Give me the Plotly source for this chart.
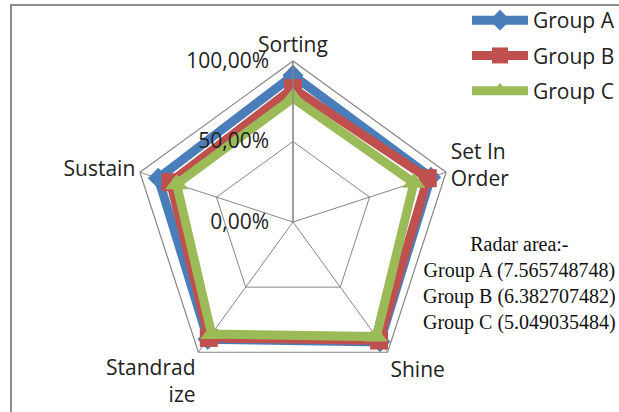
import plotly.graph_objects as go

categories = ["Sorting", "Set In<br>Order", "Shine", "Standrad<br>ize", "Sustain"]
group_a = [0.91, 0.90, 0.92, 0.90, 0.88]
group_b = [0.83, 0.88, 0.91, 0.89, 0.80]
group_c = [0.77, 0.79, 0.88, 0.86, 0.76]
series_names = ["Group A", "Group B", "Group C"]
area_values = ["7.565748748", "6.382707482", "5.049035484"]
radial_ticks = [0, 0.5, 1.0]

W, H = 619, 412
cx, cy, R = 293, 222, 161
FONT = "Open Sans"
FS = 21

styles = [
    dict(color="#4A7EBB", symbol="diamond", size=16),
    dict(color="#C0504D", symbol="square", size=18),
    dict(color="#9BBB59", symbol="triangle-up", size=20),
]

fig = go.Figure()
for name, vals, st in zip(series_names, [group_a, group_b, group_c], styles):
    fig.add_trace(go.Scatterpolar(
        r=vals + vals[:1],
        theta=categories + categories[:1],
        mode="lines+markers",
        name=name,
        legendgroup=name,
        line=dict(color=st["color"], width=9),
        marker=dict(symbol=st["symbol"], size=st["size"], color=st["color"]),
    ))

area_text = "Radar area:-<br>" + "<br>".join(
    f"{n} ({v})" for n, v in zip(series_names, area_values))

fig.update_layout(
    width=W, height=H,
    margin=dict(l=0, r=0, t=0, b=0, autoexpand=False),
    paper_bgcolor="white",
    plot_bgcolor="white",
    separators=",.",
    font=dict(family=FONT, size=FS, color="#222222"),
    polar=dict(
        domain=dict(x=[(cx - R) / W, (cx + R) / W],
                    y=[(H - cy - R) / H, (H - cy + R) / H]),
        gridshape="linear",
        bgcolor="white",
        angularaxis=dict(
            rotation=90, direction="clockwise",
            showline=True, linecolor="#868686", linewidth=1.2,
            gridcolor="#868686", gridwidth=1.2,
            ticks="", tickfont=dict(family=FONT, size=FS, color="#222222"),
        ),
        radialaxis=dict(
            range=[0, 1.0], tickvals=radial_ticks, tickformat=".2%",
            angle=90, tickangle=90, side="counterclockwise",
            ticks="outside", ticklen=16, tickcolor="rgba(0,0,0,0)",
            showline=True, linecolor="#868686", linewidth=1.2,
            gridcolor="#868686", gridwidth=1.2,
            tickfont=dict(family=FONT, size=FS, color="#222222"),
        ),
    ),
    legend=dict(
        x=467 / W, y=1.0, xanchor="left", yanchor="top",
        bgcolor="rgba(0,0,0,0)",
        font=dict(family=FONT, size=FS, color="#222222"),
        itemwidth=56, tracegroupgap=5, traceorder="grouped",
    ),
    annotations=[dict(
        text=area_text, xref="paper", yref="paper",
        x=519 / W, y=1 - 231 / H, xanchor="center", yanchor="top",
        showarrow=False, align="center",
        font=dict(family="Liberation Serif", size=20, color="#111111"),
    )],
    shapes=[dict(
        type="path", xref="paper", yref="paper",
        path=f"M {11/W} 0 L {11/W} {1-5/H} L 1 {1-5/H}",
        line=dict(color="#8C8C8C", width=2),
    )],
)

fig.write_html("out.html", config={"displayModeBar": False},
               post_script="document.body.style.margin='0';")
